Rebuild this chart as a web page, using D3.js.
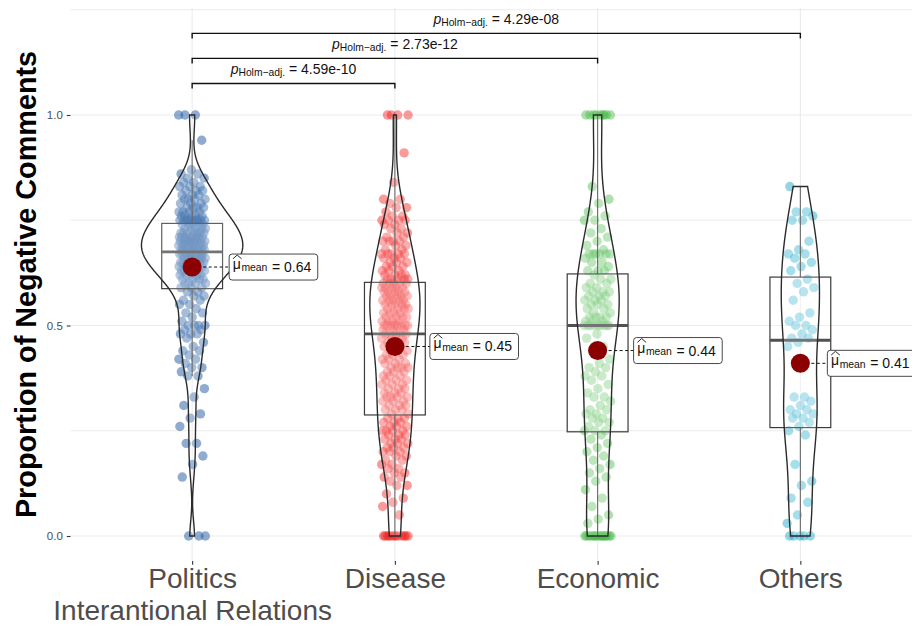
<!DOCTYPE html>
<html>
<head>
<meta charset="utf-8">
<script src="https://cdn.jsdelivr.net/npm/d3@7"></script>
<style>
  body { margin: 0; background: #fff; }
  svg { display: block; }
  text { font-family: "Liberation Sans", Arial, Helvetica, sans-serif; }
</style>
</head>
<body>
<svg id="chart" width="912" height="626"></svg>
<script>
// ---- data ---------------------------------------------------------------
const categories = ["Politics\nInterantional Relations", "Disease", "Economic", "Others"];

const politics = [
  1, 1, 1, 0.94,
  0.87, 0.86, 0.86, 0.85, 0.85, 0.84, 0.84, 0.83, 0.83, 0.83, 0.82, 0.82, 0.82, 0.81, 0.81, 0.81,
  0.80, 0.80, 0.80, 0.80, 0.79, 0.79, 0.79, 0.78, 0.78, 0.78, 0.78, 0.77, 0.77, 0.77, 0.77,
  0.76, 0.76, 0.76, 0.76, 0.76, 0.75, 0.75, 0.75, 0.75, 0.75, 0.75, 0.75, 0.75, 0.75, 0.75,
  0.74, 0.74, 0.74, 0.74, 0.74, 0.73, 0.73, 0.73, 0.73, 0.73,
  0.72, 0.72, 0.72, 0.72, 0.72, 0.72, 0.72, 0.71, 0.71, 0.71, 0.71, 0.71, 0.71, 0.71, 0.71,
  0.70, 0.70, 0.70, 0.70, 0.70, 0.70, 0.70, 0.70, 0.70, 0.69, 0.69, 0.69, 0.69, 0.69, 0.69, 0.69, 0.69,
  0.68, 0.68, 0.68, 0.68, 0.68, 0.68, 0.68, 0.68,
  0.67, 0.67, 0.67, 0.67, 0.67, 0.67, 0.67, 0.67, 0.66, 0.66, 0.66, 0.66, 0.66, 0.66, 0.66,
  0.65, 0.65, 0.65, 0.65, 0.65, 0.65, 0.65, 0.64, 0.64, 0.64, 0.64, 0.64, 0.64,
  0.63, 0.63, 0.63, 0.63, 0.63, 0.63, 0.62, 0.62, 0.62, 0.62, 0.62, 0.61, 0.61, 0.61, 0.61,
  0.60, 0.60, 0.60, 0.60, 0.59, 0.59, 0.59,
  0.58, 0.58, 0.57, 0.57, 0.56, 0.56, 0.55, 0.55, 0.54, 0.53, 0.53, 0.52, 0.51,
  0.50, 0.50, 0.50, 0.50, 0.49, 0.49, 0.48, 0.48, 0.48,
  0.47, 0.46, 0.45, 0.44, 0.44, 0.43, 0.42, 0.42, 0.41, 0.40, 0.40, 0.39, 0.38, 0.38,
  0.35, 0.33, 0.31, 0.29, 0.28, 0.26, 0.22, 0.22, 0.19, 0.17, 0.14,
  0, 0, 0
];

const disease = [
  1, 1, 1, 1, 0.91, 0.84, 0.80, 0.80, 0.79, 0.78, 0.78, 0.77, 0.76, 0.76,
  0.75, 0.75, 0.75, 0.75, 0.74, 0.74, 0.73, 0.73, 0.72, 0.72, 0.71, 0.71,
  0.70, 0.70, 0.70, 0.70, 0.69, 0.69, 0.68, 0.68, 0.67, 0.67, 0.67, 0.67, 0.67,
  0.66, 0.66, 0.66, 0.65, 0.65, 0.65, 0.64, 0.64, 0.64, 0.63, 0.63, 0.63,
  0.62, 0.62, 0.62, 0.62, 0.61, 0.61, 0.61, 0.61, 0.61,
  0.60, 0.60, 0.60, 0.60, 0.60, 0.59, 0.59, 0.59, 0.59, 0.59, 0.58, 0.58, 0.58, 0.58, 0.58,
  0.57, 0.57, 0.57, 0.57, 0.57, 0.56, 0.56, 0.56, 0.56, 0.56, 0.55, 0.55, 0.55, 0.55, 0.55,
  0.54, 0.54, 0.54, 0.54, 0.53, 0.53, 0.53, 0.53, 0.52, 0.52, 0.52, 0.52, 0.51, 0.51, 0.51, 0.51,
  0.50, 0.50, 0.50, 0.50, 0.50, 0.50, 0.50, 0.50, 0.49, 0.49, 0.49, 0.48, 0.48, 0.48,
  0.48, 0.48, 0.47, 0.47, 0.47, 0.46, 0.46, 0.46, 0.45, 0.45, 0.45, 0.44, 0.44, 0.44,
  0.43, 0.43, 0.43, 0.42, 0.42, 0.42, 0.41, 0.41, 0.41, 0.40, 0.40, 0.40, 0.40,
  0.39, 0.39, 0.39, 0.38, 0.38, 0.38, 0.37, 0.37, 0.37, 0.36, 0.36, 0.36, 0.35, 0.35, 0.35,
  0.34, 0.34, 0.34, 0.33, 0.33, 0.33, 0.33, 0.32, 0.32, 0.32, 0.31, 0.31, 0.31,
  0.30, 0.30, 0.30, 0.29, 0.29,
  0.28, 0.28, 0.28, 0.27, 0.27, 0.27, 0.26, 0.26, 0.26, 0.25, 0.25, 0.25, 0.25,
  0.24, 0.24, 0.24, 0.23, 0.23, 0.23, 0.22, 0.22, 0.22, 0.21, 0.21, 0.21, 0.20, 0.20, 0.20,
  0.19, 0.19, 0.18, 0.18, 0.17, 0.17, 0.16, 0.16, 0.15, 0.15, 0.14, 0.14,
  0.13, 0.12, 0.12, 0.10, 0.09, 0.08, 0.07, 0.05,
  0, 0, 0, 0, 0, 0, 0, 0, 0, 0, 0, 0
];

const economic = [
  1, 1, 1, 1, 1, 1, 1, 1, 1,
  0.83, 0.80, 0.79, 0.77, 0.76, 0.75, 0.75, 0.73, 0.72, 0.71, 0.70, 0.69, 0.68,
  0.67, 0.67, 0.67, 0.67, 0.67, 0.67, 0.66, 0.65, 0.65, 0.64, 0.63, 0.63, 0.63,
  0.62, 0.61, 0.61, 0.60, 0.60, 0.59, 0.59, 0.58, 0.58, 0.58, 0.57, 0.57, 0.57,
  0.56, 0.56, 0.56, 0.55, 0.55, 0.55, 0.54, 0.54, 0.53, 0.53, 0.52, 0.52, 0.52, 0.52,
  0.51, 0.51, 0.51, 0.50, 0.50, 0.50, 0.50, 0.50,
  0.50, 0.50, 0.50, 0.50, 0.48, 0.47, 0.45, 0.44, 0.42, 0.41, 0.40, 0.40, 0.39, 0.38,
  0.38, 0.37, 0.36, 0.35, 0.34, 0.33, 0.33, 0.32, 0.31, 0.30, 0.30, 0.29, 0.29, 0.28,
  0.28, 0.27, 0.27, 0.26, 0.25, 0.25, 0.25,
  0.24, 0.23, 0.22, 0.21, 0.20, 0.19, 0.18, 0.17, 0.16, 0.15, 0.14, 0.13, 0.11, 0.09,
  0.07, 0.05, 0.04, 0.03,
  0, 0, 0, 0, 0, 0, 0, 0, 0, 0, 0, 0, 0, 0, 0, 0, 0
];

const others = [
  0.83, 0.77, 0.77, 0.76, 0.75, 0.75, 0.70, 0.68, 0.67, 0.67, 0.66, 0.65, 0.64, 0.63,
  0.61, 0.60, 0.59, 0.58, 0.56, 0.53, 0.52, 0.51, 0.50, 0.50, 0.49, 0.48, 0.47, 0.47,
  0.46, 0.45, 0.33, 0.33, 0.32, 0.31, 0.30, 0.30, 0.29, 0.29, 0.28, 0.28, 0.27, 0.26,
  0.25, 0.24, 0.17, 0.13, 0.12, 0.09, 0.08, 0.05, 0.03, 0, 0, 0, 0, 0
];

const seriesValues = [politics, disease, economic, others];

// pairwise comparisons (group index pairs) and their adjusted p-values
const comparisons = [[0, 1], [0, 2], [0, 3]];
const pValues = ["4.59e-10", "2.73e-12", "4.29e-08"];

const yTicks = [0, 0.5, 1.0];
const yGrid = [0, 0.25, 0.5, 0.75, 1.0, 1.25];

// ---- styling / layout constants -----------------------------------------
const palette = ["#1f5aa2", "#f21c1c", "#45b845", "#12a6c8"];
const pointOpacity = [0.5, 0.44, 0.44, 0.46];
const labelNudge = [37, 35, 36, 27];
const FONT = '"Liberation Sans", Arial, Helvetica, sans-serif';

const svg = d3.select("#chart");
const panel = { left: 70.5, right: 922, top: 8, bottom: 561 };

const x = d3.scalePoint().domain(categories).range([panel.left, panel.right]).padding(0.6);
const y = d3.scaleLinear().domain([0, 1]).range([536, 115]);
const step = x.step();

// ---- grid ---------------------------------------------------------------
const grid = svg.append("g").attr("stroke", "#ebebeb").attr("stroke-width", 1.1);
grid.selectAll("line.h").data(yGrid).join("line")
  .attr("x1", panel.left).attr("x2", 912)
  .attr("y1", d => y(d)).attr("y2", d => y(d));
grid.selectAll("line.v").data(categories).join("line")
  .attr("x1", d => x(d)).attr("x2", d => x(d))
  .attr("y1", panel.top).attr("y2", panel.bottom);

// ---- per-group statistics -----------------------------------------------
function summarize(vals) {
  const s = vals.slice().sort(d3.ascending);
  const q1 = d3.quantileSorted(s, 0.25);
  const med = d3.quantileSorted(s, 0.5);
  const q3 = d3.quantileSorted(s, 0.75);
  const iqr = q3 - q1;
  const lo = d3.min(s.filter(v => v >= q1 - 1.5 * iqr - 1e-9));
  const hi = d3.max(s.filter(v => v <= q3 + 1.5 * iqr + 1e-9));
  const mean = d3.mean(s);
  const bw = 0.9 * Math.min(d3.deviation(s), iqr / 1.34) * Math.pow(s.length, -0.2);
  const mn = s[0], mx = s[s.length - 1];
  const grid = d3.range(512).map(k => mn + (mx - mn) * k / 511);
  const norm = 1 / (s.length * bw * Math.sqrt(2 * Math.PI));
  const dens = grid.map(t => ({
    v: t,
    d: norm * d3.sum(s, u => Math.exp(-0.5 * ((t - u) / bw) ** 2))
  }));
  return { q1, med, q3, lo, hi, mean, dens };
}

const groups = categories.map((c, i) => ({
  name: c, index: i, values: seriesValues[i], color: palette[i],
  ...summarize(seriesValues[i])
}));
const maxDens = d3.max(groups, g => d3.max(g.dens, d => d.d));

// ---- jittered points ----------------------------------------------------
const jitterHalf = 13.5;
const pts = svg.append("g");
groups.forEach(g => {
  pts.selectAll(null).data(g.values).join("circle")
    .attr("cx", (v, i) => x(g.name) + (((i * 0.6180339887 + 0.37 * g.index) % 1) * 2 - 1) * jitterHalf)
    .attr("cy", v => y(v))
    .attr("r", 4.7)
    .attr("fill", g.color)
    .attr("fill-opacity", pointOpacity[g.index]);
});

// ---- boxplots -----------------------------------------------------------
const boxW = 0.3 * step;
const boxes = svg.append("g");
groups.forEach(g => {
  const cx = x(g.name);
  boxes.append("line").attr("x1", cx).attr("x2", cx)
    .attr("y1", y(g.q3)).attr("y2", y(g.hi)).attr("stroke", "#444").attr("stroke-width", 1.1);
  boxes.append("line").attr("x1", cx).attr("x2", cx)
    .attr("y1", y(g.q1)).attr("y2", y(g.lo)).attr("stroke", "#444").attr("stroke-width", 1.1);
  boxes.append("rect")
    .attr("x", cx - boxW / 2).attr("width", boxW)
    .attr("y", y(g.q3)).attr("height", y(g.q1) - y(g.q3))
    .attr("fill", "#fff").attr("fill-opacity", 0.2)
    .attr("stroke", "#3a3a3a").attr("stroke-width", 1.2);
  boxes.append("line")
    .attr("x1", cx - boxW / 2).attr("x2", cx + boxW / 2)
    .attr("y1", y(g.med)).attr("y2", y(g.med))
    .attr("stroke", "#505050").attr("stroke-width", 2.8);
});

// ---- violins ------------------------------------------------------------
const violinHalf = 0.5 * step / 2;
const violins = svg.append("g");
groups.forEach(g => {
  const cx = x(g.name);
  const area = d3.area()
    .y(d => y(d.v))
    .x0(d => cx - d.d / maxDens * violinHalf)
    .x1(d => cx + d.d / maxDens * violinHalf);
  violins.append("path").datum(g.dens).attr("d", area)
    .attr("fill", "#fff").attr("fill-opacity", 0.2)
    .attr("stroke", "#2b2b2b").attr("stroke-width", 1.4);
});

// ---- means and their labels ---------------------------------------------
const means = svg.append("g");
groups.forEach(g => {
  const mx = x(g.name), my = y(g.mean);
  const boxLeft = mx + labelNudge[g.index];
  means.append("line").attr("x1", mx).attr("x2", boxLeft)
    .attr("y1", my).attr("y2", my)
    .attr("stroke", "#111").attr("stroke-width", 1).attr("stroke-dasharray", "3,2.5");
  means.append("circle").attr("cx", mx).attr("cy", my).attr("r", 9.5).attr("fill", "#8b0000");

  const lab = means.append("g");
  const rect = lab.append("rect");
  const base = my + 5;
  const tx = boxLeft + 3.6;
  const mu = lab.append("text").attr("x", tx).attr("y", base - 3)
    .attr("font-size", 14).attr("fill", "#111").text("μ");
  const muW = mu.node().getComputedTextLength();
  lab.append("path")
    .attr("d", `M${tx + 0.2},${base - 13.2}L${tx + muW / 2 + 0.4},${base - 17}L${tx + muW + 0.8},${base - 13.2}`)
    .attr("fill", "none").attr("stroke", "#111").attr("stroke-width", 0.9);
  const sub = lab.append("text").attr("x", tx + muW + 0.6).attr("y", base - 0.8)
    .attr("font-size", 10.4).attr("fill", "#111").text("mean");
  const subW = sub.node().getComputedTextLength();
  const rest = lab.append("text").attr("x", tx + muW + 0.6 + subW + 4.6).attr("y", base)
    .attr("font-size", 14).attr("fill", "#111").text("= " + d3.format(".2f")(g.mean));
  const restW = rest.node().getComputedTextLength();
  const right = tx + muW + 0.6 + subW + 4.6 + restW + 6.4;
  rect.attr("x", boxLeft).attr("y", my - 13).attr("width", right - boxLeft).attr("height", 26)
    .attr("rx", 3).attr("fill", "#fff").attr("stroke", "#333").attr("stroke-width", 0.9);
});

// ---- comparison brackets ------------------------------------------------
const bracketBase = 1.075, bracketStep = 0.0594;
const brackets = svg.append("g");
comparisons.forEach(([a, b], k) => {
  const yy = y(bracketBase + bracketStep * k);
  const xa = x(categories[a]), xb = x(categories[b]);
  brackets.append("path")
    .attr("d", `M${xa},${yy + 5}V${yy}H${xb}V${yy + 5}`)
    .attr("fill", "none").attr("stroke", "#111").attr("stroke-width", 1.4);
  const t = brackets.append("text").attr("x", (xa + xb) / 2).attr("y", yy - 9.3)
    .attr("text-anchor", "middle").attr("font-size", 14).attr("fill", "#111");
  t.append("tspan").attr("font-style", "italic").text("p");
  t.append("tspan").attr("font-size", 10.3).attr("dy", 2.2).text("Holm\u2212adj.");
  t.append("tspan").attr("dy", -2.2).text(" = " + pValues[k]);
});

// ---- axes ---------------------------------------------------------------
const gy = svg.append("g").attr("transform", `translate(${panel.left},0)`)
  .call(d3.axisLeft(y).tickValues(yTicks).tickFormat(d3.format(".1f")).tickSize(3.7).tickPadding(4));
gy.select(".domain").remove();
gy.selectAll(".tick line").attr("stroke", "#333").attr("stroke-width", 1.1);
gy.selectAll(".tick text").attr("font-family", FONT).attr("font-size", 11.5).attr("fill", "#4d4d4d");

const gx = svg.append("g").attr("transform", `translate(0,${panel.bottom})`)
  .call(d3.axisBottom(x).tickSize(3.7).tickPadding(0));
gx.select(".domain").remove();
gx.selectAll(".tick line").attr("stroke", "#333").attr("stroke-width", 1.1);
gx.selectAll(".tick text").each(function (d) {
  const t = d3.select(this).text(null).attr("dy", null).attr("y", null)
    .attr("font-family", FONT).attr("font-size", 28).attr("fill", "#4d4d4d");
  d.split("\n").forEach((line, k) => {
    t.append("tspan").attr("x", 0).attr("y", 27.3 + k * 31.6).text(line);
  });
});

// y-axis title
svg.append("text")
  .attr("transform", `translate(36,${(panel.top + panel.bottom) / 2}) rotate(-90)`)
  .attr("text-anchor", "middle")
  .attr("font-size", 28.8).attr("font-weight", "bold").attr("fill", "#000")
  .text("Proportion of Negative Comments");
</script>
</body>
</html>
